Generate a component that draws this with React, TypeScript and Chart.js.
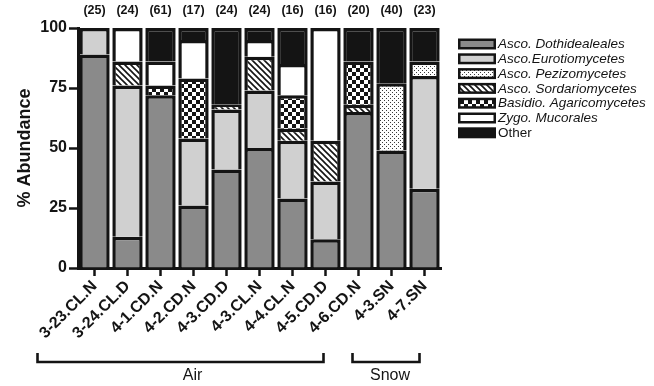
import React, { useEffect, useRef } from 'react';
import { Chart, registerables } from 'chart.js';

Chart.register(...registerables);

const categories = ['3-23.CL.N', '3-24.CL.D', '4-1.CD.N', '4-2.CD.N', '4-3.CD.D', '4-3.CL.N', '4-4.CL.N', '4-5.CD.D', '4-6.CD.N', '4-3.SN', '4-7.SN'];
const sampleCounts = ['(25)', '(24)', '(61)', '(17)', '(24)', '(24)', '(16)', '(16)', '(20)', '(40)', '(23)'];
const seriesNames = ['Asco. Dothidealeales', 'Asco.Eurotiomycetes', 'Asco. Pezizomycetes', 'Asco. Sordariomycetes', 'Basidio. Agaricomycetes', 'Zygo. Mucorales', 'Other'];
const dothideales = [89, 13, 72, 26, 41, 50, 29, 12, 65, 49, 33];
const eurotiomycetes = [11, 63, 0, 28, 25, 24, 24, 24, 0, 0, 47];
const pezizomycetes = [0, 0, 0, 0, 0, 0, 0, 0, 0, 28, 6];
const sordariomycetes = [0, 10, 0, 0, 2, 14, 5, 17, 3, 0, 0];
const agaricomycetes = [0, 0, 4, 25, 0, 0, 14, 0, 18, 0, 0];
const mucorales = [0, 14, 10, 16, 0, 7, 13, 47, 0, 0, 0];
const other = [0, 0, 14, 5, 32, 5, 15, 0, 14, 23, 14];
const yTicks = [0, 25, 50, 75, 100];
const groupLabels = ['Air', 'Snow'];
const groupFirst = [0, 9];
const groupLast = [8, 10];

const FONT = '"Liberation Sans", Arial, Helvetica, sans-serif';
const INK = '#141414';

function makePattern(kind: string): CanvasPattern | string {
  const c = document.createElement('canvas');
  const size = kind === 'check' ? 8 : kind === 'hatch' ? 6 : 4;
  c.width = size;
  c.height = size;
  const g = c.getContext('2d');
  if (!g) return '#fff';
  g.fillStyle = '#ffffff';
  g.fillRect(0, 0, size, size);
  if (kind === 'dots') {
    g.fillStyle = '#3a3a3a';
    g.fillRect(0, 0, 1, 1);
    g.fillRect(2, 2, 1, 1);
  } else if (kind === 'hatch') {
    g.strokeStyle = INK;
    g.lineWidth = 1.6;
    g.beginPath();
    g.moveTo(-1, -1); g.lineTo(7, 7);
    g.moveTo(-1, 5); g.lineTo(1, 7);
    g.moveTo(5, -1); g.lineTo(7, 1);
    g.stroke();
  } else if (kind === 'check') {
    g.fillStyle = INK;
    g.fillRect(0, 0, 4, 4);
    g.fillRect(4, 4, 4, 4);
  }
  return g.createPattern(c, 'repeat') || '#fff';
}

export default function App() {
  const ref = useRef<HTMLCanvasElement | null>(null);

  useEffect(() => {
    const canvas = ref.current;
    if (!canvas) return;
    const fills: any[] = [
      '#8a8a8a',
      '#d0d0d0',
      makePattern('dots'),
      makePattern('hatch'),
      makePattern('check'),
      '#ffffff',
      INK,
    ];
    const series = [dothideales, eurotiomycetes, pezizomycetes, sordariomycetes, agaricomycetes, mucorales, other];

    const overlay = {
      id: 'overlay',
      afterDraw(chart: any) {
        const ctx = chart.ctx;
        const xs = chart.scales.x;
        const area = chart.chartArea;
        ctx.save();
        // sample counts above bars
        ctx.fillStyle = INK;
        ctx.font = `bold 12.5px ${FONT}`;
        ctx.textAlign = 'center';
        ctx.textBaseline = 'middle';
        sampleCounts.forEach((t, i) => ctx.fillText(t, xs.getPixelForValue(i), area.top - 17));

        // legend
        const lx = area.right + 17;
        const ly = area.top + 16;
        seriesNames.forEach((n, i) => {
          const y = ly + i * 14.8;
          ctx.fillStyle = INK;
          ctx.fillRect(lx, y - 5.5, 38, 11);
          ctx.fillStyle = fills[i];
          ctx.fillRect(lx + 2.5, y - 3, 33, 6);
          ctx.fillStyle = INK;
          ctx.font = `${i < 6 ? 'italic ' : ''}13.5px ${FONT}`;
          ctx.textAlign = 'left';
          ctx.textBaseline = 'middle';
          ctx.fillText(n, lx + 40, y + 0.5);
        });

        // group brackets
        const leftOff = [-57, -39];
        const rightOff = [-35, -5];
        const textOff = [12, 4];
        const by = area.bottom + 94;
        ctx.strokeStyle = INK;
        ctx.lineWidth = 2.6;
        ctx.font = `16px ${FONT}`;
        ctx.textAlign = 'center';
        ctx.textBaseline = 'middle';
        groupLabels.forEach((g, k) => {
          const x1 = xs.getPixelForValue(groupFirst[k]) + leftOff[k];
          const x2 = xs.getPixelForValue(groupLast[k]) + rightOff[k];
          ctx.beginPath();
          ctx.moveTo(x1, by - 9);
          ctx.lineTo(x1, by);
          ctx.lineTo(x2, by);
          ctx.lineTo(x2, by - 9);
          ctx.stroke();
          ctx.fillStyle = INK;
          ctx.fillText(g, (x1 + x2) / 2 + textOff[k], by + 14);
        });
        ctx.restore();
      },
    };

    const chart = new Chart(canvas, {
      type: 'bar',
      data: {
        labels: categories,
        datasets: seriesNames.map((name, i) => ({
          label: name,
          data: series[i].map((v) => (v === 0 ? null : v)),
          backgroundColor: fills[i],
          borderColor: INK,
          borderWidth: 3.5,
          barPercentage: 0.92,
          categoryPercentage: 1,
        })),
      },
      options: {
        responsive: false,
        animation: false,
        layout: { padding: { left: 0, right: 213, top: 28, bottom: 0 } },
        plugins: { legend: { display: false }, tooltip: { enabled: false } },
        scales: {
          x: {
            stacked: true,
            offset: true,
            grid: { display: true, offset: false, drawOnChartArea: false, drawTicks: true, tickLength: 8, tickWidth: 2.5, tickColor: INK },
            border: { color: INK, width: 3 },
            ticks: { font: { family: FONT, size: 16, weight: 'bold' }, color: INK, minRotation: 45, maxRotation: 45, padding: 1, autoSkip: false },
            afterFit: (s: any) => { s.height = 118; },
          },
          y: {
            stacked: true,
            min: 0,
            max: 100,
            afterBuildTicks: (s: any) => { s.ticks = yTicks.map((v) => ({ value: v })); },
            grid: { drawOnChartArea: false, drawTicks: true, tickLength: 9, tickWidth: 2.5, tickColor: INK },
            border: { color: INK, width: 3 },
            ticks: { font: { family: FONT, size: 16, weight: 'bold' }, color: INK, padding: 2 },
            title: { display: true, text: '% Abundance', font: { family: FONT, size: 18, weight: 'bold' }, color: INK, padding: { top: 14, bottom: 0 } },
            afterFit: (s: any) => { s.width = 78; },
          },
        },
      } as any,
      plugins: [overlay],
    });
    return () => chart.destroy();
  }, []);

  return (
    <div style={{ position: 'fixed', left: 0, top: 0, width: 654, height: 386, background: '#fff' }}>
      <canvas ref={ref} width={654} height={386} style={{ display: 'block' }} />
    </div>
  );
}
